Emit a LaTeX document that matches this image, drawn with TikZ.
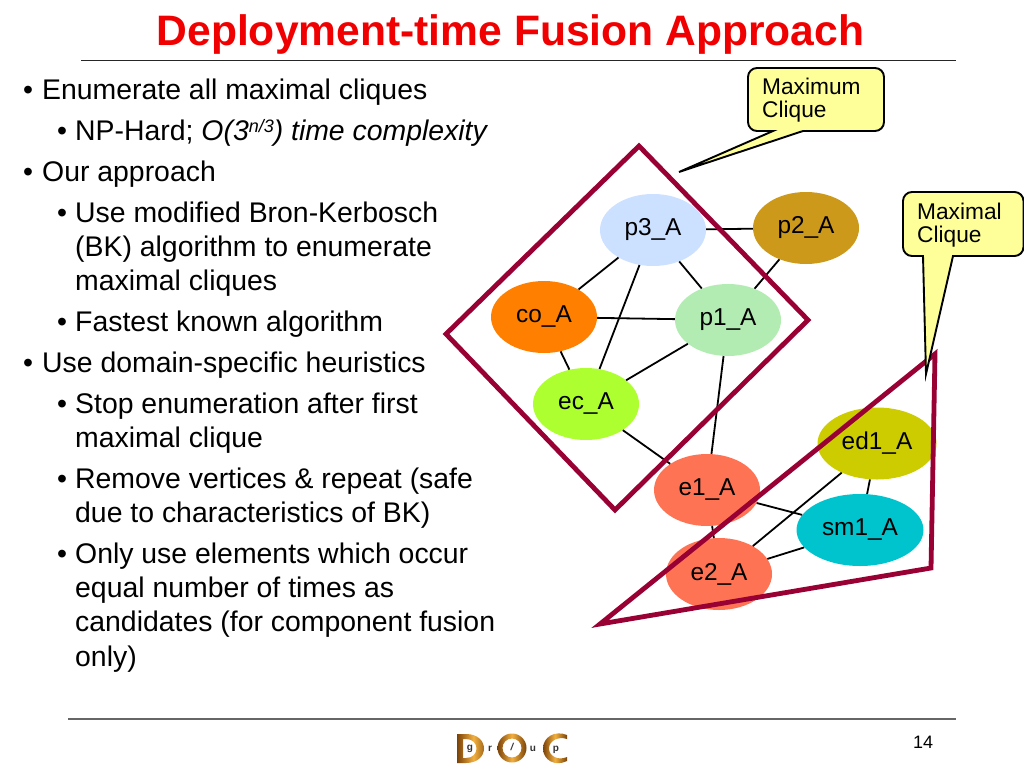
\documentclass[tikz,border=0pt]{standalone}
\usepackage{fontspec}
\setmainfont{Liberation Sans}
\usetikzlibrary{shapes.geometric}
\definecolor{cliq}{HTML}{990033}
\definecolor{calloutfill}{HTML}{FFFF99}
\definecolor{titlered}{HTML}{F00000}
\definecolor{logoB}{HTML}{F2B040}
\definecolor{logoC}{HTML}{7A4208}
\tikzset{
  body/.style={anchor=base west,inner sep=0pt,font=\fontsize{28.4}{28.4}\selectfont},
  vertex/.style={ellipse,minimum width=106pt,minimum height=72pt,inner sep=0pt,font=\fontsize{24.4}{24.4}\selectfont},
  edge/.style={line width=1.8pt,black},
  clique/.style={line width=4.8pt,cliq,line join=miter},
  callout/.style={draw=black,fill=calloutfill,line width=1.9pt,line join=miter},
  calltext/.style={anchor=base west,inner sep=0pt,font=\fontsize{22.7}{22.7}\selectfont},
  logoletter/.style={inner sep=0pt,font=\fontsize{10}{10}\selectfont\bfseries,text=black!80},
  logoshade/.style={even odd rule,draw=none,left color=logoC,right color=logoC,middle color=logoB}
}
\begin{document}
\begin{tikzpicture}[x=1pt,y=-1pt]
\useasboundingbox (0,0) rectangle (1024,768);
\fill[white] (0,0) rectangle (1024,768);
% title and rules
\node[anchor=base,inner sep=0pt,text=titlered,font=\fontsize{42.6}{42.6}\selectfont\bfseries] (title) at (510.5,45.5) {Deployment-time Fusion Approach};
\coordinate (ra) at (81,60); \coordinate (rb) at (956,60);
\draw[line width=1pt,black!85] (ra) -- (rb);
\coordinate (rc) at (68,719); \coordinate (rd) at (956,719);
\draw[line width=1.3pt,black!60] (rc) -- (rd);
\node[anchor=base,inner sep=0pt,font=\fontsize{18}{18}\selectfont] (pg) at (923,748) {14};
% bullets text
\foreach \n/\yy in {a/99.6,c/181.6,g/372.6}{\node[body] (bul\n) at (23,\yy) {•};}
\foreach \n/\yy in {b/140.6,d/222.6,f/331.6,h/413.6,j/488.6,l/563.6}{\node[body] (bul\n) at (57,\yy) {•};}
\node[body] (t1) at (42,99.6) {Enumerate all maximal cliques};
\node[body] (t2) at (75,140.6) {NP-Hard; {\itshape O(3\raisebox{8.5pt}{\fontsize{18}{18}\selectfont n/3}) time complexity}};
\node[body] (t3) at (42,181.6) {Our approach};
\node[body] (t4) at (75,222.6) {Use modified Bron-Kerbosch};
\node[body] (t5) at (75,256.6) {(BK) algorithm to enumerate};
\node[body] (t6) at (75,290.6) {maximal cliques};
\node[body] (t7) at (75,331.6) {Fastest known algorithm};
\node[body] (t8) at (42,372.6) {Use domain-specific heuristics};
\node[body] (t9) at (75,413.6) {Stop enumeration after first};
\node[body] (t10) at (75,447.6) {maximal clique};
\node[body] (t11) at (75,488.6) {Remove vertices \& repeat (safe};
\node[body] (t12) at (75,522.6) {due to characteristics of BK)};
\node[body] (t13) at (75,563.6) {Only use elements which occur};
\node[body] (t14) at (75,597.6) {equal number of times as};
\node[body] (t15) at (75,631.6) {candidates (for component fusion};
\node[body] (t16) at (75,666.6) {only)};
% vertices
\node[vertex,fill={rgb,255:red,204;green,224;blue,255}] (p3) at (653,230) {p3\_A};
\node[vertex,fill={rgb,255:red,204;green,153;blue,26}] (p2) at (806,228) {p2\_A};
\node[vertex,fill={rgb,255:red,255;green,128;blue,0}] (co) at (544,317) {co\_A};
\node[vertex,fill={rgb,255:red,179;green,236;blue,179}] (p1) at (728,320) {p1\_A};
\node[vertex,fill={rgb,255:red,173;green,255;blue,47}] (ec) at (586,404) {ec\_A};
\node[vertex,fill={rgb,255:red,255;green,115;blue,85}] (e1) at (707,490) {e1\_A};
\node[vertex,fill={rgb,255:red,255;green,115;blue,85}] (e2) at (719,574) {e2\_A};
\node[vertex,fill={rgb,255:red,0;green,196;blue,205},minimum width=127pt] (sm1) at (860,530) {sm1\_A};
\node[vertex,fill={rgb,255:red,204;green,204;blue,0},minimum width=119pt] (ed1) at (877,443.5) {ed1\_A};
% connectors
\foreach \a/\b in {p3/p2,p3/co,p3/ec,p3/p1,p1/p2,co/p1,co/ec,ec/p1,ec/e1,p1/e1,e1/e2,e1/sm1,e2/sm1,e2/ed1,ed1/sm1}{\draw[edge] (\a) -- (\b);}
% clique outlines
\coordinate (da) at (639,146); \coordinate (db) at (808,320); \coordinate (dc) at (615,510); \coordinate (dd) at (446,334);
\draw[clique] (da) -- (db) -- (dc) -- (dd) -- cycle;
\coordinate (ta) at (600,624); \coordinate (tb) at (935,354); \coordinate (tc) at (931,568);
\draw[clique] (ta) -- (tb) -- (tc) -- cycle;
% callouts
\coordinate (m1) at (773,131); \coordinate (m2) at (803,131); \coordinate (mt) at (679,172);
\draw[callout] (mt) -- (m2) [rounded corners=9pt] -- (884,131) -- (884,68) -- (748,68) -- (748,131) [sharp corners] -- (m1) -- cycle;
\node[calltext] (max1) at (762,94) {Maximum};
\node[calltext] (max2) at (762,117) {Clique};
\coordinate (n1) at (923,256); \coordinate (n2) at (953,256); \coordinate (nt) at (926,374);
\draw[callout] (nt) -- (n2) [rounded corners=9pt] -- (1023.5,256) -- (1023.5,192) -- (903,192) -- (903,256) [sharp corners] -- (n1) -- cycle;
\node[calltext] (mal1) at (917,219) {Maximal};
\node[calltext] (mal2) at (917,242) {Clique};
% logo
\shade[logoshade] (457,734) -- (466,734) .. controls (490,734) and (490,763) .. (466,763) -- (457,763) -- cycle
  (463,739) -- (463,758) -- (466,758) .. controls (480,758) and (480,739) .. (466,739) -- cycle;
\shade[logoshade] (512,748) circle[radius=14.5] (512,748) circle[radius=9.5];
\shade[logoshade] (567,735) .. controls (555,730) and (543,737) .. (543,748.5) .. controls (543,760) and (555,767) .. (567,761) -- (567,757) .. controls (558,761) and (549,756) .. (549,748.5) .. controls (549,741) and (558,736) .. (567,739) -- cycle;
\node[logoletter] (lg) at (470,749) {g};
\node[logoletter] (lr) at (490,749) {r};
\node[logoletter] (li) at (512,747) {\itshape /};
\node[logoletter] (lu) at (533,749) {u};
\node[logoletter] (lp) at (556,750) {p};
\end{tikzpicture}
\end{document}
